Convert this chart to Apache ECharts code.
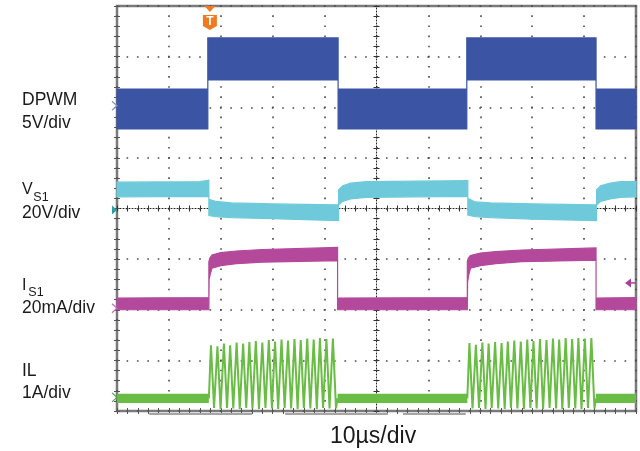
<!DOCTYPE html>
<html><head><meta charset="utf-8">
<script src="https://cdn.jsdelivr.net/npm/echarts@6/dist/echarts.min.js"></script>
<style>html,body{margin:0;padding:0;background:#fff}#c{width:640px;height:451px}</style>
</head><body><div id="c"></div>
<script>
// Horizontal: time in µs (10 µs/div, 10 div). Vertical: screen divisions (8 div).
const timeRange = [0, 100];
const divRange = [0, 8];

// Channel labels
const channelNames = ['DPWM', 'V', 'I', 'IL'];
const channelSubs = ['', 'S1', 'S1', ''];
const channelScales = ['5V/div', '20V/div', '20mA/div', '1A/div'];
const timeScale = '10µs/div';

// DPWM trace envelope [t, div]
const dpwmUpper = [[0,6.36],[17.5,6.36],[17.5,7.37],[42.6,7.37],[42.6,6.36],[67.4,6.36],[67.4,7.37],[92.3,7.37],[92.3,6.36],[100,6.36]];
const dpwmLower = [[0,5.57],[17.5,5.57],[17.5,6.54],[42.6,6.54],[42.6,5.57],[67.4,5.57],[67.4,6.54],[92.3,6.54],[92.3,5.57],[100,5.57]];

// VS1 trace envelope
const vs1Upper = [[0,4.52],[16,4.53],[17.7,4.56],[17.7,4.18],[19,4.14],[22,4.11],[30,4.09],[42.7,4.07],[42.7,4.37],[43.5,4.45],[45,4.50],[48,4.53],[67.6,4.55],[67.6,4.20],[69,4.13],[72,4.11],[80,4.09],[92.4,4.07],[92.4,4.37],[93.2,4.45],[95,4.50],[97,4.53],[100,4.53]];
const vs1Lower = [[0,4.23],[17.7,4.24],[17.7,3.86],[19,3.84],[22,3.82],[30,3.80],[42.7,3.76],[42.7,4.07],[43.5,4.14],[45,4.19],[48,4.22],[67.6,4.24],[67.6,3.87],[69,3.84],[72,3.82],[80,3.79],[92.4,3.76],[92.4,4.07],[93.2,4.14],[95,4.19],[97,4.22],[100,4.23]];

// IS1 trace envelope
const is1Upper = [[0,2.23],[17.7,2.24],[17.7,2.95],[17.9,3.02],[18.3,3.08],[20,3.13],[23,3.16],[28,3.19],[42.5,3.23],[42.5,2.23],[67.5,2.24],[67.5,2.95],[67.7,3.02],[68.1,3.07],[70,3.12],[73,3.15],[78,3.18],[92.3,3.22],[92.3,2.23],[100,2.24]];
const is1Lower = [[0,2.0],[17.7,2.0],[17.75,2.6],[18.0,2.72],[18.3,2.82],[20,2.87],[23,2.91],[28,2.94],[42.5,2.97],[42.5,2.0],[67.5,2.0],[67.55,2.55],[67.8,2.70],[68.1,2.82],[70,2.87],[73,2.91],[78,2.95],[92.3,2.98],[92.3,2.0],[100,2.0]];

// IL idle band segments [tStart, tEnd, low, high]
const ilIdle = [[0,17.7,0.16,0.34],[42.5,67.5,0.16,0.34],[92.3,100,0.16,0.34]];
// IL switching bursts [t, div]
const ilBurst1 = [[17.7,0.25],[18.1,1.30],[18.7,0.06],[19.35,1.28],[19.95,0.04],[20.6,1.33],[21.2,0.06],[21.8,1.30],[22.4,0.05],[23.05,1.35],[23.65,0.04],[24.3,1.33],[24.9,0.06],[25.5,1.36],[26.1,0.05],[26.75,1.38],[27.35,0.04],[28.0,1.35],[28.6,0.06],[29.25,1.40],[29.85,0.05],[30.45,1.37],[31.05,0.04],[31.7,1.41],[32.3,0.06],[32.95,1.39],[33.55,0.05],[34.2,1.42],[34.8,0.04],[35.4,1.40],[36.0,0.06],[36.65,1.43],[37.25,0.05],[37.9,1.41],[38.5,0.04],[39.1,1.44],[39.7,0.06],[40.35,1.42],[40.95,0.05],[41.6,1.43],[42.2,0.05],[42.5,0.25]];
const ilBurst2 = [[67.5,0.25],[67.9,1.34],[68.5,0.05],[69.15,1.31],[69.75,0.06],[70.4,1.35],[71.0,0.04],[71.6,1.33],[72.2,0.06],[72.85,1.36],[73.45,0.05],[74.1,1.34],[74.7,0.04],[75.3,1.37],[75.9,0.06],[76.55,1.39],[77.15,0.05],[77.8,1.37],[78.4,0.04],[79.05,1.41],[79.65,0.06],[80.25,1.38],[80.85,0.05],[81.5,1.42],[82.1,0.04],[82.75,1.40],[83.35,0.06],[84.0,1.43],[84.6,0.05],[85.2,1.41],[85.8,0.04],[86.45,1.44],[87.05,0.06],[87.7,1.42],[88.3,0.05],[88.9,1.44],[89.5,0.04],[90.15,1.43],[90.75,0.06],[91.4,1.44],[92.0,0.05],[92.3,0.25]];

// Ground reference markers (div) and trigger
const groundLevels = [6.03, 3.97, 2.03, 0.27];
const triggerTime = 17.9;
const triggerLevel = 2.53;

const colors = { dpwm:'#3b54a3', vs1:'#6ecadb', is1:'#b4499c', il:'#69bd44' };
const markerColors = ['#8a90c8', '#2f9ea6', '#c46cb8', '#4aa64a'];

const chart = echarts.init(document.getElementById('c'), null, {renderer:'canvas'});

function bandSeries(upper, lower, color, z) {
  const poly = upper.concat(lower.slice().reverse());
  return {
    type:'custom', xAxisIndex:0, yAxisIndex:0, z: z || 3, silent:true,
    encode:{x:0, y:1},
    data: poly,
    renderItem: function(params, api) {
      if (params.dataIndex !== 0) return null;
      const pts = poly.map(p => api.coord(p));
      return {type:'polygon', shape:{points:pts},
        style:{fill:color, stroke:color, lineWidth:1.2, opacity:1}};
    }
  };
}

const dot = '#4a4a4a';
function xAx(extra) {
  return Object.assign({type:'value', min:timeRange[0], max:timeRange[1], interval:10,
    axisLabel:{show:false}, axisLine:{show:false}, splitLine:{show:false},
    axisTick:{show:true, inside:true, length:3, lineStyle:{color:'#555', width:1}},
    minorTick:{show:true, splitNumber:5, length:3, lineStyle:{color:'#555', width:1}}}, extra);
}
function yAx(extra) {
  return Object.assign({type:'value', min:divRange[0], max:divRange[1], interval:1,
    axisLabel:{show:false}, axisLine:{show:false}, splitLine:{show:false},
    axisTick:{show:true, inside:true, length:3, lineStyle:{color:'#555', width:1}},
    minorTick:{show:true, splitNumber:5, length:3, lineStyle:{color:'#555', width:1}}}, extra);
}

const option = {
  animation:false,
  backgroundColor:'#ffffff',
  grid:{left:117, top:6, width:519, height:405, show:true, borderColor:'#7a7a7a', borderWidth:2.5, backgroundColor:'transparent'},
  xAxis:[
    xAx({position:'bottom', splitLine:{show:true, lineStyle:{color:dot, width:1.6, type:[1.6, 8.525], dashOffset:0.8}}}),
    xAx({position:'top'}),
    xAx({position:'bottom', offset:-202.5, axisLine:{show:true, onZero:false, lineStyle:{color:'#222', width:1, type:[1,2]}}, axisTick:{show:true, inside:false, length:3, lineStyle:{color:'#333'}}, minorTick:{show:true, splitNumber:5, length:3, lineStyle:{color:'#333'}}}),
    xAx({position:'bottom', offset:-202.5, axisTick:{show:true, inside:true, length:3, lineStyle:{color:'#333'}}, minorTick:{show:true, splitNumber:5, length:3, lineStyle:{color:'#333'}}})
  ],
  yAxis:[
    yAx({position:'left', splitLine:{show:true, lineStyle:{color:dot, width:1.6, type:[1.6, 8.775], dashOffset:0.8}}}),
    yAx({position:'right'}),
    yAx({position:'left', offset:-259.5, axisLine:{show:true, onZero:false, lineStyle:{color:'#222', width:1, type:[1,2]}}, axisTick:{show:true, inside:false, length:3, lineStyle:{color:'#333'}}, minorTick:{show:true, splitNumber:5, length:3, lineStyle:{color:'#333'}}}),
    yAx({position:'left', offset:-259.5, axisTick:{show:true, inside:true, length:3, lineStyle:{color:'#333'}}, minorTick:{show:true, splitNumber:5, length:3, lineStyle:{color:'#333'}}})
  ],
  series:[
    bandSeries(dpwmUpper, dpwmLower, colors.dpwm),
    bandSeries(vs1Upper, vs1Lower, colors.vs1),
    bandSeries(is1Upper, is1Lower, colors.is1),
    {type:'custom', xAxisIndex:0, yAxisIndex:0, z:3, silent:true, encode:{x:[0,1], y:[2,3]}, data:ilIdle,
      renderItem:function(params, api){
        const a = api.coord([api.value(0), api.value(3)]);
        const b = api.coord([api.value(1), api.value(2)]);
        return {type:'rect', shape:{x:a[0], y:a[1], width:b[0]-a[0], height:b[1]-a[1]}, style:{fill:colors.il}};
      }},
    {type:'line', xAxisIndex:0, yAxisIndex:0, z:4, data:ilBurst1, showSymbol:false, symbol:'none', lineStyle:{color:colors.il, width:2}, silent:true},
    {type:'line', xAxisIndex:0, yAxisIndex:0, z:4, data:ilBurst2, showSymbol:false, symbol:'none', lineStyle:{color:colors.il, width:2}, silent:true}
  ]
};
chart.setOption(option);

const P = (t, v) => chart.convertToPixel({xAxisIndex:0, yAxisIndex:0}, [t, v]);
const font = s => s + 'px "Liberation Sans", Arial, sans-serif';
const txt = (text, x, y, size) => ({type:'text', x:x, y:y, z:20, silent:true,
  style:{text:text, font:font(size), fill:'#1a1a1a', align:'left', verticalAlign:'middle'}});

const g = [];
// Left labels
g.push(txt(channelNames[0], 22, 100.5, 17.5));
g.push(txt(channelScales[0], 22, 123.5, 17.5));
g.push(txt(channelNames[1], 22, 189.7, 16));
g.push(txt(channelSubs[1], 33.3, 197.5, 12.5));
g.push(txt(channelScales[1], 22, 213.5, 17.5));
g.push(txt(channelNames[2], 22, 285.3, 16));
g.push(txt(channelSubs[2], 28.3, 292.8, 12.5));
g.push(txt(channelScales[2], 22, 308.5, 17.5));
g.push(txt(channelNames[3], 22, 370.8, 17.5));
g.push(txt(channelScales[3], 22, 393.5, 17.5));
g.push(txt(timeScale, 330, 436.5, 23));

// Ground markers on the left edge
groundLevels.forEach((lv, i) => {
  const p = P(timeRange[0], lv);
  const x0 = p[0] - 5, x1 = p[0], y = p[1];
  if (i === 1) {
    g.push({type:'polygon', z:20, silent:true, shape:{points:[[x0,y-4.5],[x1,y],[x0,y+4.5]]}, style:{fill:markerColors[i]}});
  } else {
    g.push({type:'polyline', z:20, silent:true, shape:{points:[[x0,y-4.5],[x1,y],[x0,y+4.5]]}, style:{stroke:markerColors[i], lineWidth:1.2, fill:null}});
  }
});

// Trigger position marker at top
const tp = P(triggerTime, divRange[1]);
g.push({type:'polygon', z:21, silent:true, shape:{points:[[tp[0]-5.5,tp[1]],[tp[0]+5.5,tp[1]],[tp[0],tp[1]+6]]}, style:{fill:'#f07a22'}});
g.push({type:'polygon', z:21, silent:true, shape:{points:[[tp[0]-7,tp[1]+9],[tp[0]+7,tp[1]+9],[tp[0]+7,tp[1]+20],[tp[0],tp[1]+24],[tp[0]-7,tp[1]+20]]}, style:{fill:'#f07a22'}});
g.push({type:'text', x:tp[0], y:tp[1]+16, z:22, silent:true, style:{text:'T', font:'bold 12px "Liberation Sans", Arial, sans-serif', fill:'#ffffff', align:'center', verticalAlign:'middle'}});

// Trigger level marker at right
const tl = P(timeRange[1], triggerLevel);
g.push({type:'polygon', z:21, silent:true, shape:{points:[[tl[0]-11,tl[1]],[tl[0]-5,tl[1]-4.5],[tl[0]-5,tl[1]+4.5]]}, style:{fill:'#a8409c'}});
g.push({type:'line', z:21, silent:true, shape:{x1:tl[0]-5, y1:tl[1], x2:tl[0], y2:tl[1]}, style:{stroke:'#a8409c', lineWidth:1.5}});

// Record position bars under the screen
const barSegs = [[6.2,26.0],[32.4,52.2],[55.1,67.2]];
barSegs.forEach(s => {
  const a = P(s[0], divRange[0]), b = P(s[1], divRange[0]);
  g.push({type:'rect', z:20, silent:true, shape:{x:a[0], y:a[1]+2, width:b[0]-a[0], height:2}, style:{fill:'#a5a5a5'}});
});

chart.setOption({graphic:g});
</script>
</body></html>
